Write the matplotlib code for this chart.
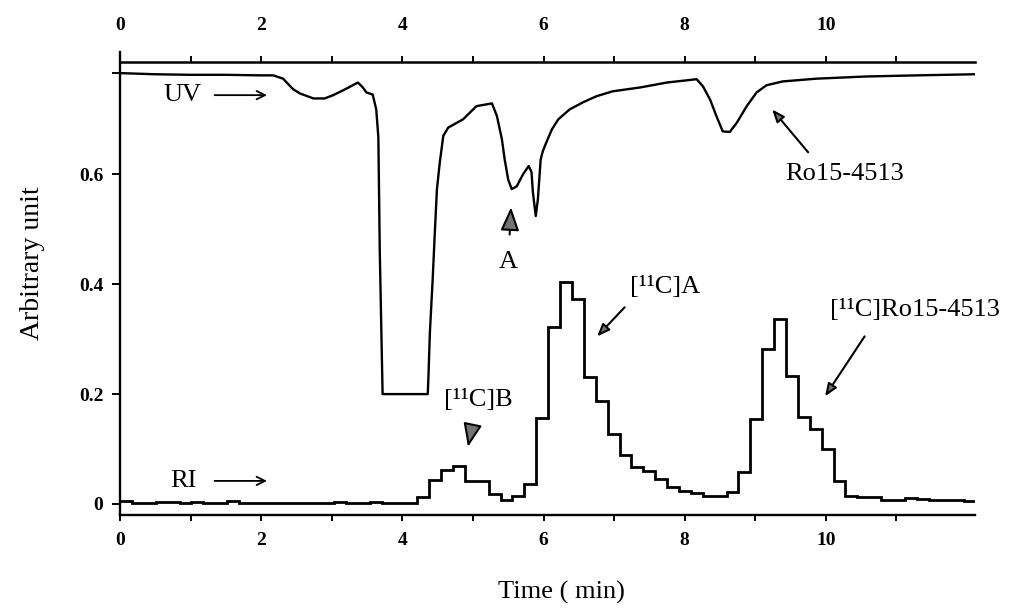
import matplotlib
matplotlib.use("Agg")
import matplotlib.pyplot as plt
import numpy as np

plt.rcParams['font.family'] = ['Liberation Serif', 'DejaVu Serif']

# UV trace (time in min, arbitrary unit)
uv_t = [0.03, 0.5, 1.0, 1.5, 2.0, 2.17, 2.31, 2.45, 2.55, 2.74, 2.90, 3.02, 3.21,
        3.37, 3.44, 3.49, 3.58, 3.63, 3.66, 3.68, 3.72, 4.36, 4.37, 4.39, 4.43,
        4.46, 4.49, 4.53, 4.58, 4.65, 4.86, 5.05, 5.27, 5.34, 5.41, 5.45, 5.50,
        5.55, 5.62, 5.71, 5.79, 5.83, 5.85, 5.89, 5.92, 5.96, 5.99, 6.04, 6.12,
        6.21, 6.37, 6.56, 6.75, 6.98, 7.37, 7.75, 8.03, 8.17, 8.26, 8.36, 8.45,
        8.54, 8.64, 8.74, 8.88, 9.02, 9.16, 9.39, 9.87, 10.58, 11.29, 12.10]
uv_v = [0.784, 0.782, 0.781, 0.781, 0.780, 0.780, 0.774, 0.755, 0.747, 0.738, 0.738, 0.744, 0.756,
        0.767, 0.758, 0.749, 0.745, 0.718, 0.667, 0.46, 0.20, 0.20, 0.233, 0.312, 0.41,
        0.494, 0.573, 0.621, 0.670, 0.685, 0.700, 0.724, 0.729, 0.706, 0.664, 0.627, 0.590,
        0.573, 0.578, 0.600, 0.615, 0.604, 0.567, 0.524, 0.554, 0.627, 0.642, 0.658, 0.682,
        0.700, 0.718, 0.731, 0.742, 0.751, 0.758, 0.767, 0.771, 0.773, 0.760, 0.736, 0.706,
        0.678, 0.677, 0.694, 0.724, 0.749, 0.762, 0.769, 0.774, 0.778, 0.780, 0.782]

# RI radio detector, one value per counting interval
ri_dt = 0.1685
ri = [0.005, 0.001, 0.001, 0.003, 0.003, 0.001, 0.004, 0.001, 0.001, 0.005,
      0.001, 0.001, 0.001, 0.001, 0.001, 0.001, 0.001, 0.001, 0.004, 0.001,
      0.001, 0.004, 0.001, 0.001, 0.001, 0.013, 0.044, 0.062, 0.070, 0.041,
      0.041, 0.019, 0.008, 0.015, 0.036, 0.156, 0.322, 0.404, 0.373, 0.231,
      0.187, 0.127, 0.089, 0.067, 0.060, 0.045, 0.031, 0.024, 0.020, 0.015,
      0.015, 0.022, 0.058, 0.155, 0.282, 0.336, 0.233, 0.158, 0.136, 0.100,
      0.042, 0.015, 0.013, 0.013, 0.008, 0.008, 0.011, 0.009, 0.008, 0.007,
      0.007, 0.005]

x_ticks = [0, 2, 4, 6, 8, 10]
x_minor = [1, 3, 5, 7, 9, 11]
y_ticks = [0, 0.2, 0.4, 0.6, 0.785]
y_labels = ['0', '0.2', '0.4', '0.6', '']

fig = plt.figure(figsize=(10.09, 6.08), dpi=100)
ax = fig.add_axes([0.119, 0.153, 0.847, 0.761])

ax.plot(uv_t, uv_v, color='black', lw=1.7)
edges = np.arange(len(ri) + 1) * ri_dt
ax.stairs(ri, edges, baseline=None, color='black', lw=2.0)

ax.set_xlim(0, 12.11)
ax.set_ylim(-0.02, 0.822)
for s in ['top', 'right']:
    ax.spines[s].set_visible(False)
for s in ['left', 'bottom']:
    ax.spines[s].set_linewidth(1.7)

ax.set_xticks(x_ticks)
ax.set_xticks(x_minor, minor=True)
ax.set_yticks(y_ticks)
ax.set_yticklabels(y_labels)
ax.tick_params(axis='x', which='both', direction='out', length=4, width=1.4, pad=8)
ax.tick_params(axis='y', direction='out', length=6, width=1.4, pad=6)
for lab in ax.get_xticklabels() + ax.get_yticklabels():
    lab.set_fontsize(14)
    lab.set_fontweight('bold')

# top time axis line
top = ax.secondary_xaxis(0.9786)
top.set_xticks(x_ticks)
top.set_xticks(x_minor, minor=True)
top.spines['top'].set_linewidth(1.8)
top.tick_params(axis='x', which='both', direction='out', length=4, width=1.4, pad=16)
for lab in top.get_xticklabels():
    lab.set_fontsize(14)
    lab.set_fontweight('bold')

ax.text(0.516, -0.168, 'Time ( min)', transform=ax.transAxes, ha='center', va='center', fontsize=19)
ax.text(-0.102, 0.544, 'Arbitrary unit', transform=ax.transAxes, ha='center', va='center',
        rotation=90, fontsize=20)

open_arrow = dict(arrowstyle='->,head_length=0.6,head_width=0.3', color='black', lw=1.3)
filled = dict(arrowstyle='-|>,head_length=0.75,head_width=0.3', fc='0.45', ec='black', lw=1.5)

ax.annotate('', xy=(2.12, 0.744), xytext=(1.30, 0.744), arrowprops=open_arrow)
ax.text(0.88, 0.744, 'UV', ha='center', va='center', fontsize=19)
ax.annotate('', xy=(2.12, 0.042), xytext=(1.30, 0.042), arrowprops=open_arrow)
ax.text(0.90, 0.042, 'RI', ha='center', va='center', fontsize=19)

ax.annotate('A', xy=(5.54, 0.54), xytext=(5.50, 0.44), ha='center', va='center', fontsize=19,
            arrowprops=dict(filled, shrinkA=10, shrinkB=0))
ax.annotate('[¹¹C]B', xy=(4.93, 0.104), xytext=(5.07, 0.19), ha='center', va='center', fontsize=19,
            arrowprops=dict(filled, shrinkA=12, shrinkB=0))
ax.annotate('', xy=(6.76, 0.305), xytext=(7.15, 0.358), arrowprops=dict(filled, shrinkA=0, shrinkB=0))
ax.text(7.72, 0.394, '[¹¹C]A', ha='center', va='center', fontsize=19)
ax.annotate('', xy=(9.99, 0.196), xytext=(10.55, 0.305), arrowprops=dict(filled, shrinkA=0, shrinkB=0))
ax.text(11.27, 0.353, '[¹¹C]Ro15-4513', ha='center', va='center', fontsize=19)
ax.annotate('', xy=(9.24, 0.718), xytext=(9.75, 0.64), arrowprops=dict(filled, shrinkA=0, shrinkB=0))
ax.text(10.27, 0.60, 'Ro15-4513', ha='center', va='center', fontsize=19)

fig.savefig('out.png', dpi=100)
